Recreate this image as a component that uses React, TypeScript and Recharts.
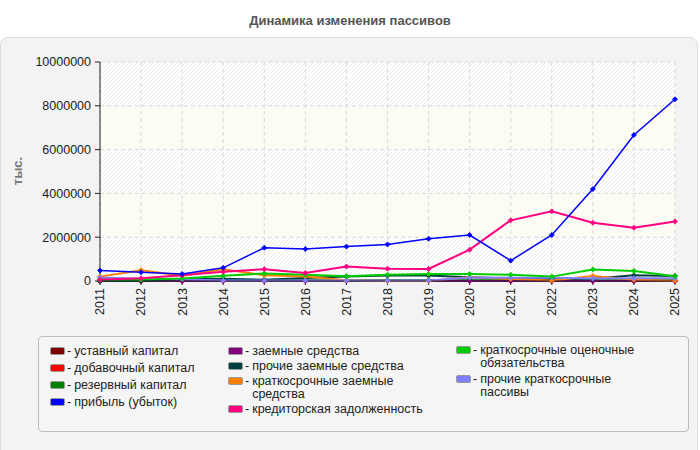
import * as React from "react";
import { CartesianGrid, Line, LineChart, XAxis, YAxis } from "recharts";

const years = [2011, 2012, 2013, 2014, 2015, 2016, 2017, 2018, 2019, 2020, 2021, 2022, 2023, 2024, 2025];
const yTicks = [0, 2000000, 4000000, 6000000, 8000000, 10000000];

const ustavny = [10000, 10000, 10000, 10000, 10000, 10000, 10000, 10000, 10000, 10000, 10000, 10000, 10000, 10000, 10000];
const dobavochny = [0, 0, 0, 0, 0, 0, 0, 0, 0, 0, 0, 0, 0, 0, 0];
const rezervny = [80000, 60000, 40000, 30000, 30000, 30000, 30000, 30000, 30000, 30000, 30000, 30000, 30000, 30000, 30000];
const pribyl = [480000, 400000, 320000, 600000, 1520000, 1460000, 1570000, 1670000, 1930000, 2100000, 930000, 2100000, 4200000, 6670000, 8300000];
const zaemnye = [0, 0, 0, 0, 0, 0, 0, 0, 0, 0, 0, 0, 0, 0, 0];
const prochieZaemnye = [0, 0, 80000, 100000, 60000, 140000, 200000, 250000, 250000, 170000, 110000, 90000, 100000, 260000, 230000];
const kratkZaemnye = [200000, 490000, 240000, 540000, 260000, 200000, 30000, 0, 0, 180000, 90000, 20000, 230000, 60000, 10000];
const kreditorka = [60000, 120000, 260000, 420000, 540000, 370000, 660000, 560000, 550000, 1430000, 2770000, 3180000, 2660000, 2430000, 2720000];
const ocenochnye = [50000, 60000, 110000, 240000, 340000, 280000, 220000, 290000, 320000, 320000, 290000, 200000, 530000, 460000, 220000];
const prochieKratk = [160000, 100000, 80000, 20000, 20000, 20000, 20000, 20000, 20000, 160000, 150000, 150000, 110000, 130000, 120000];

const series = [
  { key: "ust", name: "уставный капитал", color: "#800000", values: ustavny, width: 2 },
  { key: "dob", name: "добавочный капитал", color: "#ff0000", values: dobavochny, width: 2 },
  { key: "rez", name: "резервный капитал", color: "#008000", values: rezervny, width: 2 },
  { key: "prib", name: "прибыль (убыток)", color: "#0000ff", values: pribyl, width: 1.5 },
  { key: "zaem", name: "заемные средства", color: "#800080", values: zaemnye, width: 2 },
  { key: "prochZaem", name: "прочие заемные средства", color: "#004040", values: prochieZaemnye, width: 2 },
  { key: "krZaem", name: "краткосрочные заемные средства", color: "#ff8000", values: kratkZaemnye, width: 2 },
  { key: "kred", name: "кредиторская задолженность", color: "#ff0080", values: kreditorka, width: 2 },
  { key: "ocen", name: "краткосрочные оценочные обязательства", color: "#00cc00", values: ocenochnye, width: 2 },
  { key: "prochKr", name: "прочие краткосрочные пассивы", color: "#8080ff", values: prochieKratk, width: 2 },
];

// draw order (last on top)
const drawOrder = ["ust", "dob", "rez", "zaem", "prochZaem", "krZaem", "prochKr", "ocen", "kred", "prib"];

const legendColumns = [
  { left: 49, gap: 4, top: 344, keys: ["ust", "dob", "rez", "prib"] },
  { left: 227, gap: 2, top: 344, keys: ["zaem", "prochZaem", "krZaem", "kred"] },
  { left: 455, gap: 3, top: 343, keys: ["ocen", "prochKr"] },
];

const data = years.map((year, i) => {
  const row: Record<string, number> = { year };
  series.forEach((s) => {
    row[s.key] = s.values[i];
  });
  return row;
});

const FONT = "Arial, 'Liberation Sans', sans-serif";

function Diamond(props: any) {
  const { cx, cy, stroke } = props;
  if (cx == null || cy == null) return null;
  const r = 2.5;
  return (
    <path
      d={`M${cx},${cy - r} L${cx + r},${cy} L${cx},${cy + r} L${cx - r},${cy} Z`}
      fill={stroke}
      stroke={stroke}
      strokeWidth={0.8}
    />
  );
}

function YearTick(props: any) {
  const { x, y, payload } = props;
  return (
    <text
      x={x}
      y={y}
      transform={`rotate(-90, ${x}, ${y})`}
      textAnchor="end"
      dy="0.35em"
      fontSize={12.5}
      fontFamily={FONT}
      fill="#222"
    >
      {payload.value}
    </text>
  );
}

function UnitLabel() {
  return (
    <text
      x={19}
      y={171}
      transform="rotate(-90, 19, 171)"
      textAnchor="middle"
      dominantBaseline="middle"
      fontSize={13}
      fontWeight="bold"
      fontFamily={FONT}
      fill="#777"
    >
      тыс.
    </text>
  );
}

function LegendBox() {
  return (
    <div
      style={{
        position: "absolute",
        left: 38,
        top: 336,
        width: 651,
        height: 96,
        border: "1px solid #bdbdbd",
        borderRadius: 4,
        background: "#f5f5f5",
        boxSizing: "border-box",
      }}
    >
      {legendColumns.map((col, ci) => (
        <div
          key={ci}
          style={{
            position: "absolute",
            left: col.left - 38,
            top: col.top - 336,
            display: "flex",
            flexDirection: "column",
            gap: col.gap,
          }}
        >
          {col.keys.map((k) => {
            const s = series.find((x) => x.key === k)!;
            return (
              <div key={k} style={{ display: "flex", alignItems: "flex-start" }}>
                <span
                  style={{
                    display: "inline-block",
                    width: 15,
                    height: 8,
                    marginTop: 2,
                    background: s.color,
                    border: "1px solid #999",
                    borderRadius: 2,
                    boxSizing: "border-box",
                    flex: "none",
                  }}
                />
                <span style={{ fontSize: 12.5, lineHeight: "13px", color: "#222", margin: "0 3px 0 2px", flex: "none" }}>-</span>
                <span style={{ fontSize: 12.5, lineHeight: "13px", color: "#222", width: 182 }}>{s.name}</span>
              </div>
            );
          })}
        </div>
      ))}
    </div>
  );
}

export default function App() {
  return (
    <div
      style={{
        position: "absolute",
        left: 0,
        top: 0,
        width: 700,
        height: 450,
        background: "#fff",
        fontFamily: FONT,
        overflow: "hidden",
      }}
    >
      <div
        style={{
          position: "absolute",
          left: 0,
          top: 13,
          width: 700,
          textAlign: "center",
          fontSize: 13,
          fontWeight: "bold",
          color: "#555",
        }}
      >
        Динамика изменения пассивов
      </div>
      <div
        style={{
          position: "absolute",
          left: 0,
          top: 37,
          width: 698,
          height: 430,
          background: "#f3f3f3",
          border: "1px solid #ddd",
          borderRadius: 8,
          boxSizing: "border-box",
        }}
      />
      <div style={{ position: "absolute", left: 0, top: 0 }}>
        <LineChart width={700} height={330} data={data} margin={{ top: 62, right: 25, left: 0, bottom: 9 }}>
          <defs>
            <pattern id="hatch" patternUnits="userSpaceOnUse" width="4" height="4">
              <rect width="4" height="4" fill="#ffffff" />
              <path d="M-1,1 L1,-1 M0,4 L4,0 M3,5 L5,3" stroke="#ececec" strokeWidth="1" />
            </pattern>
          </defs>
          <CartesianGrid
            stroke="#d8d8d8"
            strokeDasharray="4 3"
            horizontalFill={["url(#hatch)", "#fcfcf4"]}
            fillOpacity={1}
          />
          <XAxis
            dataKey="year"
            type="number"
            domain={[2011, 2025]}
            ticks={years}
            interval={0}
            height={40}
            tick={<YearTick />}
            tickSize={4}
            tickMargin={3}
            stroke="#222"
          />
          <YAxis
            width={100}
            domain={[0, 10000000]}
            ticks={yTicks}
            interval={0}
            tickSize={5}
            tickMargin={4}
            stroke="#222"
            tick={{ fontSize: 12.5, fontFamily: FONT, fill: "#222" }}
            label={<UnitLabel />}
          />
          {drawOrder.map((k) => {
            const s = series.find((x) => x.key === k)!;
            return (
              <Line
                key={k}
                type="linear"
                dataKey={k}
                name={s.name}
                stroke={s.color}
                strokeWidth={s.width}
                dot={<Diamond />}
                activeDot={false}
                isAnimationActive={false}
              />
            );
          })}
        </LineChart>
      </div>
      <LegendBox />
    </div>
  );
}
